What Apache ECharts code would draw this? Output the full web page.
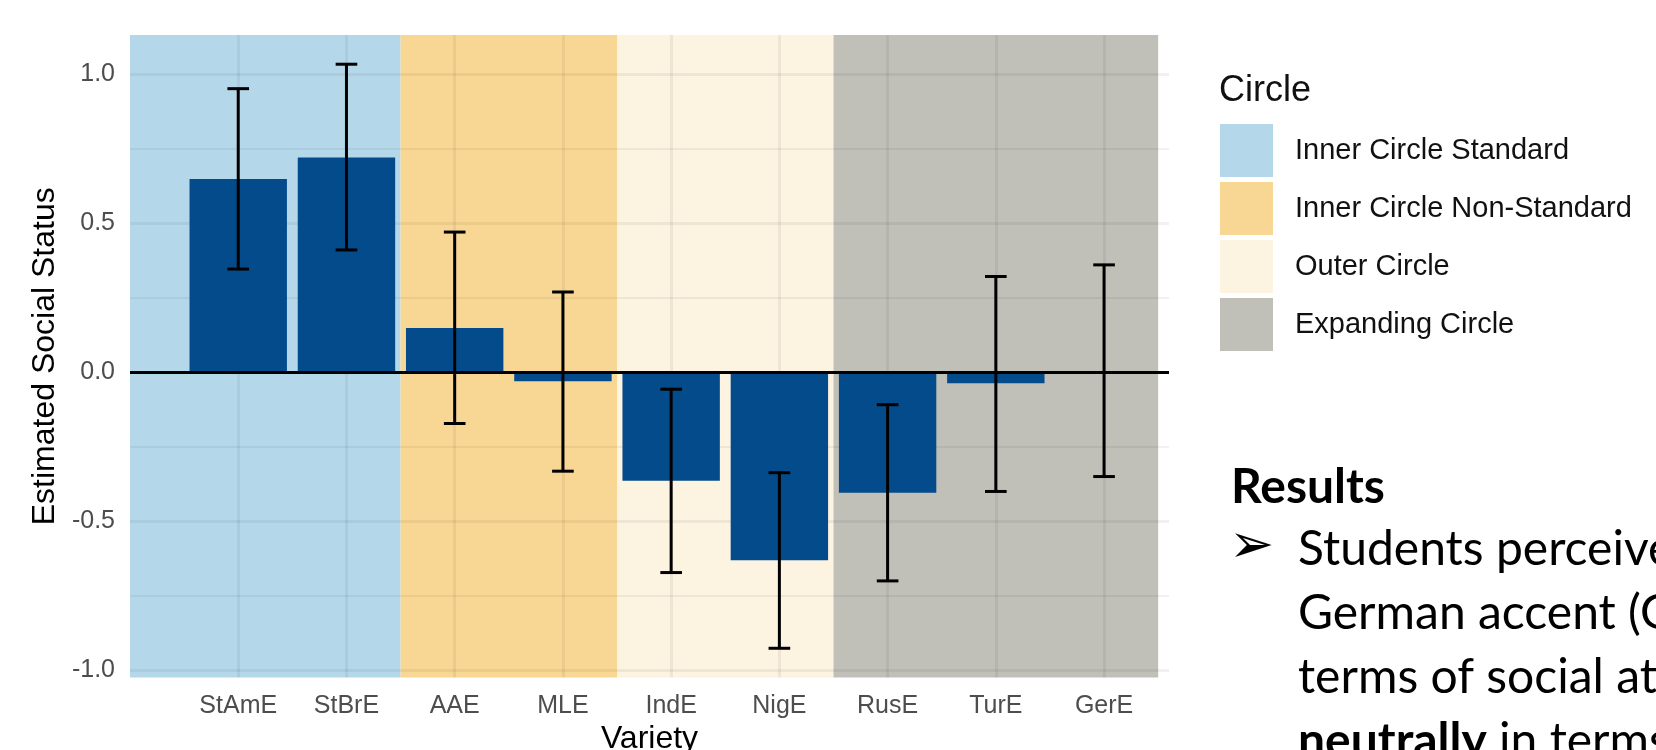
<!DOCTYPE html>
<html>
<head>
<meta charset="utf-8">
<script src="https://cdn.jsdelivr.net/npm/echarts@6.0.0/dist/echarts.min.js"></script>
<style>
  html, body { margin: 0; padding: 0; background: #fff; }
  #chart { width: 1656px; height: 750px; }
</style>
</head>
<body>
<div id="chart"></div>
<script>
// data
const varieties = ['StAmE', 'StBrE', 'AAE', 'MLE', 'IndE', 'NigE', 'RusE', 'TurE', 'GerE']
const positions = [1, 2, 3, 4, 5, 6, 7, 8, 9]
const estimates = [0.647, 0.719, 0.147, -0.031, -0.365, -0.632, -0.405, -0.038, 0.0]
const ciLower = [0.345, 0.409, -0.173, -0.333, -0.673, -0.927, -0.701, -0.401, -0.351]
const ciUpper = [0.950, 1.032, 0.469, 0.268, -0.058, -0.338, -0.110, 0.320, 0.359]

const circleNames = ['Inner Circle Standard', 'Inner Circle Non-Standard', 'Outer Circle', 'Expanding Circle']
const circleColors = ['#b4d8e9', '#f8d794', '#fdf3e1', '#c0c0b8']
const circleStart = [0, 2.5, 4.5, 6.5]
const circleEnd = [2.5, 4.5, 6.5, 9.5]

const majorBreaks = [-1, -0.5, 0, 0.5, 1]
const minorBreaks = [-0.75, -0.25, 0.25, 0.75]

const font = '"Liberation Sans", Arial, sans-serif'
const slideFont = 'Lato, "Open Sans", sans-serif'
const gridColor = 'rgba(0, 0, 0, 0.055)'

const chart = echarts.init(document.getElementById('chart'))

const bandSeries = circleNames.map((name, i) => ({
  name: name,
  type: 'line',
  data: [],
  color: circleColors[i],
  itemStyle: { color: circleColors[i] },
  markArea: {
    silent: true,
    z: 1,
    itemStyle: { color: circleColors[i], opacity: 1 },
    data: [[{ xAxis: circleStart[i] }, { xAxis: circleEnd[i] }]]
  }
}))

const gridLines = [
  ...majorBreaks.map(v => ({ yAxis: v, lineStyle: { width: 3 } })),
  ...minorBreaks.map(v => ({ yAxis: v, lineStyle: { width: 2 } })),
  ...positions.map(v => ({ xAxis: v, lineStyle: { width: 3 } }))
]

const option = {
  animation: false,
  backgroundColor: '#fff',
  grid: { left: 130, right: 487, top: 35, bottom: 72.5, containLabel: false, outerBoundsMode: 'none' },
  xAxis: {
    type: 'value',
    min: 0,
    max: 9.6,
    axisLine: { show: false },
    axisTick: { show: false },
    splitLine: { show: false },
    axisLabel: {
      customValues: positions,
      formatter: v => varieties[Math.round(v) - 1] || '',
      fontSize: 25,
      color: '#4d4d4d',
      fontFamily: font,
      margin: 16
    },
    name: 'Variety',
    nameLocation: 'middle',
    nameGap: 46,
    nameTextStyle: { fontSize: 32, color: '#000', fontFamily: font }
  },
  yAxis: {
    type: 'value',
    min: -1.025,
    max: 1.13,
    axisLine: { show: false },
    axisTick: { show: false },
    splitLine: { show: false },
    axisLabel: {
      customValues: majorBreaks,
      formatter: v => v.toFixed(1),
      fontSize: 25,
      color: '#4d4d4d',
      fontFamily: font,
      margin: 15
    },
    name: 'Estimated Social Status',
    nameLocation: 'middle',
    nameGap: 66,
    nameRotate: 90,
    nameTextStyle: { fontSize: 32, color: '#000', fontFamily: font }
  },
  legend: {
    orient: 'vertical',
    left: 1220,
    top: 124,
    padding: 0,
    itemWidth: 53,
    itemHeight: 53,
    itemGap: 5,
    icon: 'rect',
    selectedMode: false,
    data: circleNames,
    textStyle: { fontSize: 29, color: '#111', fontFamily: font, padding: [0, 0, 0, 17] }
  },
  graphic: [
    { type: 'text', left: 1219, top: 73, style: { text: 'Circle', fontSize: 36, fill: '#111', fontFamily: font } },
    { type: 'text', x: 1231, y: 488, style: { text: 'Results', fontSize: 48, fontWeight: 'bold', fill: '#000', fontFamily: slideFont, verticalAlign: 'middle' } },
    { type: 'text', x: 1229, y: 548, style: { text: '\u27A2', fontSize: 54, fill: '#000', fontFamily: '"DejaVu Sans"', verticalAlign: 'middle' } },
    { type: 'text', x: 1298, y: 550, style: { text: 'Students perceived the', fontSize: 48, fill: '#000', fontFamily: slideFont, verticalAlign: 'middle' } },
    { type: 'text', x: 1298, y: 614, style: { text: 'German accent (GerE)', fontSize: 48, fill: '#000', fontFamily: slideFont, verticalAlign: 'middle' } },
    { type: 'text', x: 1298, y: 678, style: { text: 'terms of social attractiveness', fontSize: 48, fill: '#000', fontFamily: slideFont, verticalAlign: 'middle' } },
    {
      type: 'text', x: 1298, y: 742,
      style: {
        text: '{b|neutrally} in terms of status',
        fontSize: 48, fill: '#000', fontFamily: slideFont, verticalAlign: 'middle',
        rich: { b: { fontSize: 48, fontWeight: 'bold', fontFamily: slideFont, fill: '#000' } }
      }
    }
  ],
  series: [
    ...bandSeries,
    {
      type: 'line',
      data: [],
      markLine: {
        silent: true,
        z: 2,
        symbol: ['none', 'none'],
        label: { show: false },
        lineStyle: { color: gridColor, type: 'solid' },
        data: gridLines
      }
    },
    {
      name: 'Estimate',
      type: 'bar',
      z: 3,
      barWidth: '90%',
      itemStyle: { color: '#034b8a' },
      data: estimates.map((v, i) => [positions[i], v]),
      markLine: {
        silent: true,
        z: 5,
        symbol: ['none', 'none'],
        label: { show: false },
        lineStyle: { color: '#000', width: 3, type: 'solid' },
        data: [{ yAxis: 0 }]
      }
    },
    {
      type: 'custom',
      z: 4,
      data: positions.map((x, i) => [x, ciLower[i], ciUpper[i]]),
      encode: { x: 0, y: [1, 2] },
      renderItem: (params, api) => {
        const x = api.value(0)
        const lo = api.coord([x, api.value(1)])
        const hi = api.coord([x, api.value(2)])
        const half = api.size([0.2, 0])[0] / 2
        const style = { stroke: '#000', lineWidth: 3 }
        return {
          type: 'group',
          children: [
            { type: 'line', shape: { x1: lo[0], y1: lo[1], x2: hi[0], y2: hi[1] }, style },
            { type: 'line', shape: { x1: lo[0] - half, y1: lo[1], x2: lo[0] + half, y2: lo[1] }, style },
            { type: 'line', shape: { x1: hi[0] - half, y1: hi[1], x2: hi[0] + half, y2: hi[1] }, style }
          ]
        }
      }
    }
  ]
}

chart.setOption(option)
</script>
</body>
</html>
